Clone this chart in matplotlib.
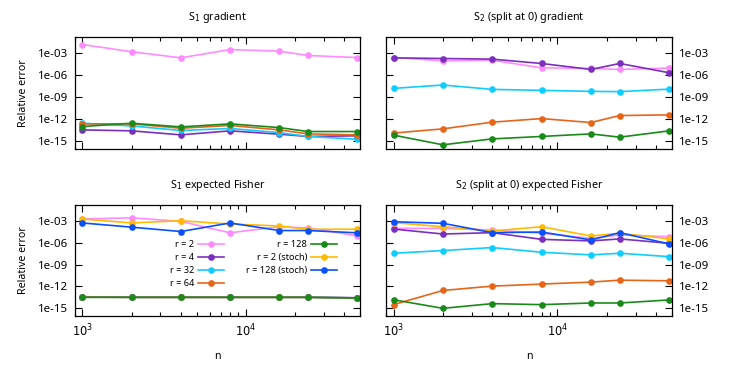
import matplotlib.pyplot as plt
from matplotlib.ticker import FixedLocator, LogLocator, NullFormatter, NullLocator

plt.rcParams["font.family"] = ["Noto Sans", "DejaVu Sans"]
plt.rcParams["font.size"] = 8.3

n = [1000, 2000, 4000, 8000, 16000, 24000, 48000]

labels = ["r = 2", "r = 4", "r = 32", "r = 64", "r = 128", "r = 2 (stoch)", "r = 128 (stoch)"]
colors = ["#ff8cff", "#7b2fbf", "#11ccff", "#e5661a", "#1a8a1a", "#ffbb00", "#0a50ff"]

# S1 gradient
s1_grad_r2 = [1.35e-2, 1.4e-3, 2.1e-4, 2.8e-3, 1.7e-3, 4.4e-4, 2.3e-4]
s1_grad_r4 = [3.5e-14, 2.6e-14, 7.4e-15, 2.6e-14, 9.1e-15, 4.5e-15, 5.5e-15]
s1_grad_r32 = [2.8e-13, 1.2e-13, 2.9e-14, 5.4e-14, 1.5e-14, 4.5e-15, 1.9e-15]
s1_grad_r64 = [2.3e-13, 2.3e-13, 5.9e-14, 1.4e-13, 3.5e-14, 1.0e-14, 7.4e-15]
s1_grad_r128 = [1.0e-13, 2.8e-13, 8.9e-14, 2.3e-13, 7.2e-14, 2.1e-14, 2.1e-14]

# S2 (split at 0) gradient
s2_grad_r2 = [2.3e-4, 8.3e-5, 1.0e-4, 9.3e-6, 7.6e-6, 5.6e-6, 8.5e-6]
s2_grad_r4 = [2.1e-4, 1.7e-4, 1.4e-4, 3.6e-5, 5.6e-6, 3.6e-5, 2.0e-6]
s2_grad_r32 = [1.5e-8, 4.3e-8, 1.1e-8, 8.1e-9, 5.9e-9, 5.4e-9, 1.2e-8]
s2_grad_r64 = [1.3e-14, 4.8e-14, 3.9e-13, 1.2e-12, 3.5e-13, 3.1e-12, 3.8e-12]
s2_grad_r128 = [6.8e-15, 3.3e-16, 2.1e-15, 4.5e-15, 1.0e-14, 3.6e-15, 2.6e-14]

# S1 expected Fisher
s1_fish_r2 = [1.7e-3, 2.5e-3, 8.1e-4, 2.2e-5, 1.5e-4, 1.0e-4, 8.7e-6]
s1_fish_r4 = [3.9e-14, 3.3e-14, 3.3e-14, 3.3e-14, 3.3e-14, 3.3e-14, 2.8e-14]
s1_fish_r32 = [3.5e-14, 3.3e-14, 3.3e-14, 3.3e-14, 3.3e-14, 3.3e-14, 2.7e-14]
s1_fish_r64 = [3.4e-14, 3.2e-14, 3.2e-14, 3.2e-14, 3.2e-14, 3.2e-14, 2.7e-14]
s1_fish_r128 = [3.2e-14, 3.2e-14, 3.2e-14, 3.2e-14, 3.2e-14, 3.2e-14, 2.6e-14]
s1_fish_r2_stoch = [1.7e-3, 4.9e-4, 1.0e-3, 3.5e-4, 1.9e-4, 6.8e-5, 6.8e-5]
s1_fish_r128_stoch = [4.9e-4, 1.3e-4, 3.3e-5, 4.9e-4, 4.5e-5, 4.5e-5, 2.2e-5]

# S2 (split at 0) expected Fisher
s2_fish_r2 = [8.9e-5, 8.9e-5, 5.4e-5, 1.9e-5, 3.9e-6, 1.1e-5, 6.6e-6]
s2_fish_r4 = [7.2e-5, 1.5e-5, 2.3e-5, 2.8e-6, 1.7e-6, 3.2e-6, 8.1e-7]
s2_fish_r32 = [3.5e-8, 8.1e-8, 2.1e-7, 4.8e-8, 2.1e-8, 3.5e-8, 1.2e-8]
s2_fish_r64 = [3.2e-15, 2.8e-13, 1.1e-12, 2.1e-12, 3.9e-12, 7.2e-12, 5.9e-12]
s2_fish_r128 = [1.5e-14, 1.0e-15, 4.4e-15, 3.2e-15, 5.4e-15, 5.4e-15, 1.4e-14]
s2_fish_r2_stoch = [5.4e-4, 1.5e-4, 3.9e-5, 1.5e-4, 8.1e-6, 1.9e-5, 3.2e-6]
s2_fish_r128_stoch = [7.2e-4, 4.4e-4, 2.3e-5, 2.8e-5, 2.3e-6, 2.3e-5, 6.6e-7]

panels = [
    ("S$_1$ gradient",
     [s1_grad_r2, s1_grad_r4, s1_grad_r32, s1_grad_r64, s1_grad_r128]),
    ("S$_2$ (split at 0) gradient",
     [s2_grad_r2, s2_grad_r4, s2_grad_r32, s2_grad_r64, s2_grad_r128]),
    ("S$_1$ expected Fisher",
     [s1_fish_r2, s1_fish_r4, s1_fish_r32, s1_fish_r64, s1_fish_r128,
      s1_fish_r2_stoch, s1_fish_r128_stoch]),
    ("S$_2$ (split at 0) expected Fisher",
     [s2_fish_r2, s2_fish_r4, s2_fish_r32, s2_fish_r64, s2_fish_r128,
      s2_fish_r2_stoch, s2_fish_r128_stoch]),
]

# axes boxes in figure fractions: left, bottom, width, height
W, H = 747, 373
boxes = [
    (75 / W, 1 - 149 / H, 285 / W, 112 / H),
    (386 / W, 1 - 149 / H, 286 / W, 112 / H),
    (75 / W, 1 - 316 / H, 285 / W, 111 / H),
    (386 / W, 1 - 316 / H, 286 / W, 111 / H),
]

fig = plt.figure(figsize=(7.47, 3.73), dpi=100)

for i, ((title, series), box) in enumerate(zip(panels, boxes)):
    ax = fig.add_axes(box)
    for label, color, vals in zip(labels, colors, series):
        ax.plot(n, vals, color=color, lw=1.2, marker="o", ms=4.8, mew=0, label=label)

    ax.set_xscale("log")
    ax.set_yscale("log")
    ax.set_xlim(900, 50000)
    ax.set_ylim(10 ** -16.05, 10 ** -0.85)

    ax.yaxis.set_major_locator(FixedLocator([1e-15, 1e-12, 1e-9, 1e-6, 1e-3]))
    ax.yaxis.set_minor_locator(NullLocator())
    ax.set_yticklabels(["1e-15", "1e-12", "1e-09", "1e-06", "1e-03"])
    ax.xaxis.set_major_locator(FixedLocator([1e3, 1e4]))
    ax.xaxis.set_minor_locator(LogLocator(base=10, subs=range(2, 10)))
    ax.xaxis.set_minor_formatter(NullFormatter())

    ax.tick_params(which="both", direction="in", top=True, right=True, width=0.8)
    ax.tick_params(which="major", length=5, pad=5)
    ax.tick_params(which="minor", length=3)
    for s in ax.spines.values():
        s.set_linewidth(0.9)

    ax.set_title(title, fontsize=7.8, pad=12)

    if i % 2 == 0:
        ax.set_ylabel("Relative error", fontsize=7.7, labelpad=6)
    else:
        ax.yaxis.tick_right()
        ax.tick_params(which="both", left=True, right=True)
    if i < 2:
        ax.set_xticklabels([])
    else:
        ax.set_xticklabels(["$10^{3}$", "$10^{4}$"])
        ax.set_xlabel("n", fontsize=7.7, labelpad=8)

    if i == 2:
        ax.legend(loc="upper right", bbox_to_anchor=(337 / W, 1 - 240 / H),
                  bbox_transform=fig.transFigure, ncol=2, markerfirst=False,
                  frameon=False, borderpad=0, borderaxespad=0, fontsize=6.6,
                  handlelength=2.8, handletextpad=0.45, columnspacing=2.4,
                  labelspacing=0.45)

fig.savefig("out.png", dpi=100)
